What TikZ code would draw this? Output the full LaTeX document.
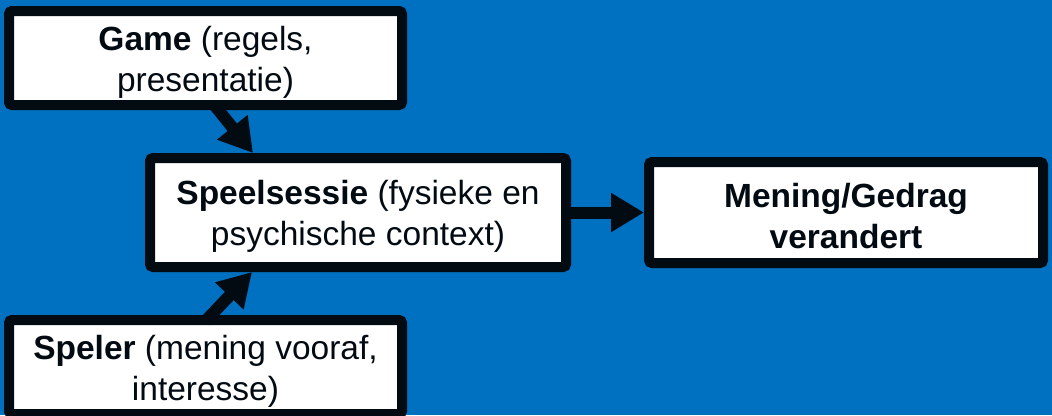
\documentclass[tikz,border=0pt]{standalone}
\usepackage{fontspec}
\setmainfont{Liberation Sans}
\usetikzlibrary{arrows.meta}
\definecolor{bgblue}{RGB}{0,112,192}
\definecolor{ink}{RGB}{2,10,18}
\tikzset{
  box/.style={draw=ink, line width=10pt, fill=white, rounded corners=3pt,
    inner sep=0pt},
  txt/.style={align=center, inner sep=0pt, yshift=-4pt, text=ink,
    font=\fontsize{33.5pt}{41pt}\selectfont},
  arr/.style={draw=ink, line width=12pt,
    -{Triangle[length=33pt,width=37pt]}}
}
\begin{document}
\begin{tikzpicture}[x=1pt,y=-1pt]
\fill[bgblue] (0,0) rectangle (1052,415);
\useasboundingbox (0,0) rectangle (1052,415);
% nodes
\node[box, minimum width=393pt, minimum height=94pt,
  label={[txt]center:{\textbf{Game} (regels,\\presentatie)}}] (game) at (205.5,58) {};
\node[box, minimum width=416pt, minimum height=109pt,
  label={[txt]center:{\textbf{Speelsessie} (fysieke en\\psychische context)}}] (sessie) at (358,212.5) {};
\node[box, minimum width=394pt, minimum height=101pt,
  label={[txt]center:{\textbf{Mening/Gedrag}\\\textbf{verandert}}}] (mening) at (846,212.5) {};
\node[box, minimum width=393pt, minimum height=94pt,
  label={[txt]center:{\textbf{Speler} (mening vooraf,\\interesse)}}] (speler) at (205.5,367) {};
% connectors
\draw[arr] ([xshift=8pt,yshift=6pt]game.south) -- ([xshift=-105pt]sessie.north);
\draw[arr] ([yshift=-6pt]speler.north) -- ([xshift=-106pt]sessie.south);
\draw[arr] ([xshift=-6pt]sessie.east) -- (mening.west);
\end{tikzpicture}
\end{document}
